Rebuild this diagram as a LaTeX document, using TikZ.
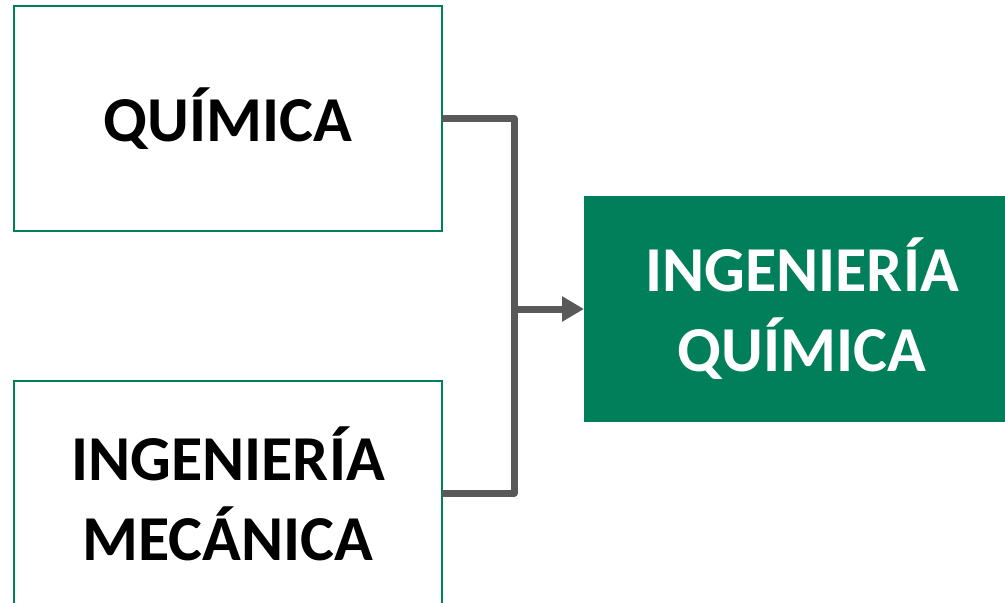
\documentclass[tikz,border=0pt]{standalone}
\usepackage{fontspec}
\setmainfont{Carlito}
\usetikzlibrary{arrows.meta}
\definecolor{eg}{RGB}{0,127,90}
\definecolor{cg}{RGB}{89,89,89}
\begin{document}
\begin{tikzpicture}[x=1pt,y=-1pt,
  lbl/.style={font=\fontsize{64}{80}\selectfont\bfseries, align=center, inner sep=0pt, outer sep=0pt},
  wbox/.style={lbl, draw=eg, line width=2.5pt, fill=white, text=black},
  gbox/.style={lbl, fill=eg, text=white},
  conn/.style={draw=cg, line width=7pt, line join=round}]
\useasboundingbox (0,0) rectangle (1005,603);
\fill[white] (0,0) rectangle (1005,603);
\node[wbox, minimum width=428pt, minimum height=225pt] (A) at (228,118.5) {QUÍMICA};
\node[wbox, minimum width=428pt, minimum height=226pt] (B) at (228,494) {INGENIERÍA\\MECÁNICA};
\node[gbox, minimum width=436pt, minimum height=226pt] (C) at (802,309) {INGENIERÍA\\QUÍMICA};
\coordinate (j) at (514,309);
\coordinate (bt) at (442,493);
\draw[conn] (A.east) -| (j);
\draw[conn] (bt) -| (j);
\draw[conn, -{Triangle[length=22pt,width=24pt]}] (j) -- (C.west);
\end{tikzpicture}
\end{document}
